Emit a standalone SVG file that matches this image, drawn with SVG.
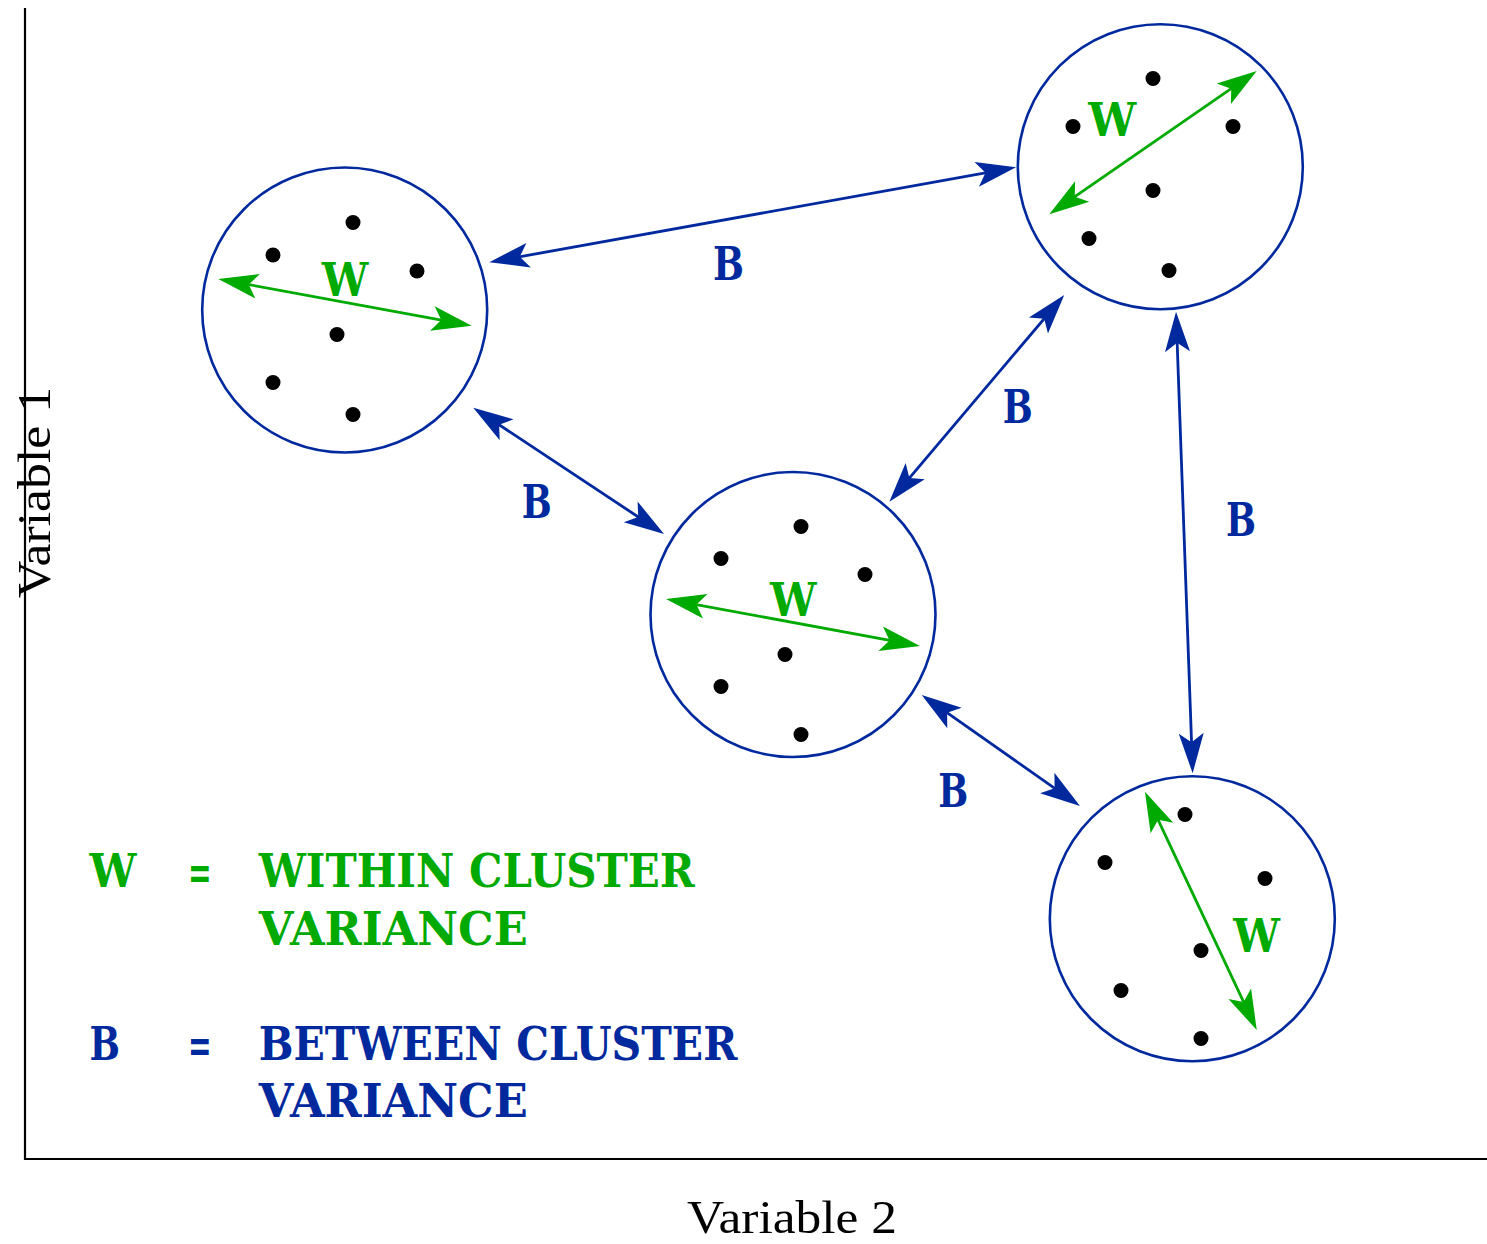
<svg xmlns="http://www.w3.org/2000/svg" width="1487" height="1244" viewBox="0 0 1487 1244">
<style>
.axis{stroke:#000;stroke-width:2.2;fill:none}
.clu{fill:#fff;stroke:#00299e;stroke-width:2.6}
.dot{fill:#000}
.wa{stroke:#00aa00;stroke-width:2.8;fill:none;marker-start:url(#gh);marker-end:url(#gh)}
.ba{stroke:#00299e;stroke-width:2.8;fill:none;marker-start:url(#bh);marker-end:url(#bh)}
.lw{font-family:"DejaVu Serif","Liberation Serif",serif;font-weight:bold;font-size:46px;fill:#00aa00}
.lb{font-family:"DejaVu Serif","Liberation Serif",serif;font-weight:bold;font-size:46px;fill:#00299e}
.ax{font-family:"Liberation Serif","Times New Roman",serif;font-size:46px;fill:#000}
</style>
<defs>
<marker id="gh" markerUnits="userSpaceOnUse" viewBox="-31 -13 42 26" refX="0" refY="0" markerWidth="42" markerHeight="26" orient="auto-start-reverse" overflow="visible">
<path d="M10,0 L-30,-12.5 L-21,0 L-30,12.5 Z" fill="#00aa00"/>
</marker>
<marker id="bh" markerUnits="userSpaceOnUse" viewBox="-31 -13 42 26" refX="0" refY="0" markerWidth="42" markerHeight="26" orient="auto-start-reverse" overflow="visible">
<path d="M10,0 L-30,-12.5 L-21,0 L-30,12.5 Z" fill="#00299e"/>
</marker>
</defs>
<rect width="1487" height="1244" fill="#fff"/>
<g id="axes">
<line class="axis" x1="25" y1="8" x2="25" y2="1160"/>
<line class="axis" x1="24" y1="1159" x2="1487" y2="1159"/>
<text class="ax" transform="translate(50,598) rotate(-90)" textLength="211" lengthAdjust="spacingAndGlyphs">Variable 1</text>
<text class="ax" x="687" y="1233" textLength="210" lengthAdjust="spacingAndGlyphs">Variable 2</text>
</g>
<g id="cluster1">
<circle class="clu" cx="344.7" cy="310" r="142.5"/>
<circle class="dot" cx="353" cy="222.5" r="7.5"/>
<circle class="dot" cx="273" cy="255" r="7.5"/>
<circle class="dot" cx="417" cy="271" r="7.5"/>
<circle class="dot" cx="337" cy="334.5" r="7.5"/>
<circle class="dot" cx="273" cy="382.5" r="7.5"/>
<circle class="dot" cx="353" cy="414.5" r="7.5"/>
<line class="wa" x1="228.1" y1="280.8" x2="461.9" y2="323.9"/>
<text class="lw" x="321.7" y="296" textLength="46.6" lengthAdjust="spacingAndGlyphs">W</text>
</g>
<g id="cluster2">
<circle class="clu" cx="793" cy="614.5" r="142.5"/>
<circle class="dot" cx="801" cy="526.5" r="7.5"/>
<circle class="dot" cx="721" cy="558.5" r="7.5"/>
<circle class="dot" cx="865" cy="574.5" r="7.5"/>
<circle class="dot" cx="785" cy="654.5" r="7.5"/>
<circle class="dot" cx="721" cy="686.5" r="7.5"/>
<circle class="dot" cx="801" cy="734.5" r="7.5"/>
<line class="wa" x1="675.8" y1="600.8" x2="910.2" y2="644.2"/>
<text class="lw" x="770" y="616" textLength="46.6" lengthAdjust="spacingAndGlyphs">W</text>
</g>
<g id="cluster3">
<circle class="clu" cx="1160.3" cy="166.7" r="142.5"/>
<circle class="dot" cx="1153" cy="78.5" r="7.5"/>
<circle class="dot" cx="1073" cy="126.5" r="7.5"/>
<circle class="dot" cx="1233" cy="126.5" r="7.5"/>
<circle class="dot" cx="1153" cy="190.5" r="7.5"/>
<circle class="dot" cx="1089" cy="238.5" r="7.5"/>
<circle class="dot" cx="1169" cy="270.5" r="7.5"/>
<line class="wa" x1="1057.5" y1="208.6" x2="1248.5" y2="76.7"/>
<text class="lw" x="1088.3" y="136" textLength="48" lengthAdjust="spacingAndGlyphs">W</text>
</g>
<g id="cluster4">
<circle class="clu" cx="1192.3" cy="918.7" r="142.5"/>
<circle class="dot" cx="1185" cy="814.5" r="7.5"/>
<circle class="dot" cx="1105" cy="862.5" r="7.5"/>
<circle class="dot" cx="1265" cy="878.5" r="7.5"/>
<circle class="dot" cx="1201" cy="950.5" r="7.5"/>
<circle class="dot" cx="1121" cy="990.5" r="7.5"/>
<circle class="dot" cx="1201" cy="1038.5" r="7.5"/>
<line class="wa" x1="1149.2" y1="800.8" x2="1252.5" y2="1020.9"/>
<text class="lw" x="1233.3" y="951.7" textLength="46.7" lengthAdjust="spacingAndGlyphs">W</text>
</g>
<g id="connectors">
<line class="ba" x1="499.1" y1="260.5" x2="1006.2" y2="169.1"/>
<line class="ba" x1="481.6" y1="413.2" x2="655.7" y2="528.5"/>
<line class="ba" x1="895.8" y1="494.1" x2="1057.8" y2="302.6"/>
<line class="ba" x1="1176.4" y1="321.7" x2="1192.3" y2="763.3"/>
<line class="ba" x1="929.9" y1="700.7" x2="1071.8" y2="800.3"/>
<text class="lb" x="713" y="280" textLength="31" lengthAdjust="spacingAndGlyphs">B</text>
<text class="lb" x="1002.7" y="422.7" textLength="30" lengthAdjust="spacingAndGlyphs">B</text>
<text class="lb" x="521.7" y="518.3" textLength="30" lengthAdjust="spacingAndGlyphs">B</text>
<text class="lb" x="1226" y="536" textLength="30" lengthAdjust="spacingAndGlyphs">B</text>
<text class="lb" x="938.3" y="806.7" textLength="30" lengthAdjust="spacingAndGlyphs">B</text>
</g>
<g id="legend">
<text class="lw" x="89.6" y="887" textLength="47" lengthAdjust="spacingAndGlyphs">W</text>
<text class="lw" x="188" y="889" textLength="23.6" lengthAdjust="spacingAndGlyphs">=</text>
<text class="lw" x="258.7" y="887" textLength="436" lengthAdjust="spacingAndGlyphs">WITHIN CLUSTER</text>
<text class="lw" x="258.7" y="945" textLength="269" lengthAdjust="spacingAndGlyphs">VARIANCE</text>
<text class="lb" x="89.6" y="1060" textLength="30.5" lengthAdjust="spacingAndGlyphs">B</text>
<text class="lb" x="188" y="1062" textLength="23.6" lengthAdjust="spacingAndGlyphs">=</text>
<text class="lb" x="258.7" y="1060" textLength="478.7" lengthAdjust="spacingAndGlyphs">BETWEEN CLUSTER</text>
<text class="lb" x="258.7" y="1117" textLength="269" lengthAdjust="spacingAndGlyphs">VARIANCE</text>
</g>
</svg>
